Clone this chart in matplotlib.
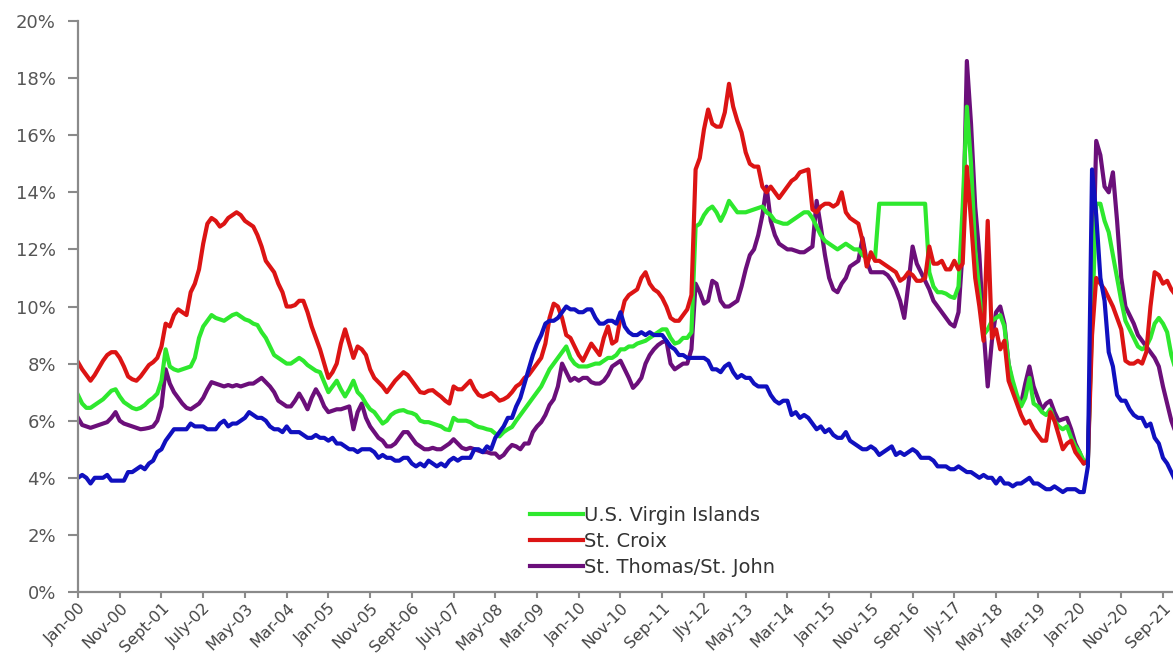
import matplotlib
matplotlib.use('Agg')
import matplotlib.pyplot as plt
import numpy as np

# etichette dell'asse x, una ogni 10 mesi a partire da gennaio 2000
etichette_mesi = ['Jan-00', 'Nov-00', 'Sept-01', 'July-02', 'May-03', 'Mar-04', 'Jan-05',
                  'Nov-05', 'Sept-06', 'July-07', 'May-08', 'Mar-09', 'Jan-10', 'Nov-10',
                  'Sep-11', 'Jly-12', 'May-13', 'Mar-14', 'Jan-15', 'Nov-15', 'Sep-16',
                  'Jly-17', 'May-18', 'Mar-19', 'Jan-20', 'Nov-20', 'Sep-21']

# tassi di disoccupazione mensili (%), gen 2000 - dic 2021, una riga per anno
usvi = [
    6.9, 6.6, 6.45, 6.45, 6.55, 6.65, 6.75, 6.9, 7.05, 7.1, 6.85, 6.65,
    6.55, 6.45, 6.4, 6.45, 6.55, 6.7, 6.8, 6.95, 7.4, 8.5, 7.9, 7.8,
    7.75, 7.8, 7.85, 7.9, 8.2, 8.9, 9.3, 9.5, 9.7, 9.6, 9.55, 9.5,
    9.6, 9.7, 9.75, 9.65, 9.55, 9.5, 9.4, 9.35, 9.1, 8.9, 8.6, 8.3,
    8.2, 8.1, 8.0, 8.0, 8.1, 8.2, 8.1, 7.95, 7.85, 7.75, 7.7, 7.35,
    7.0, 7.2, 7.4, 7.1, 6.85, 7.1, 7.4, 7.0, 6.85, 6.6, 6.4, 6.3,
    6.1, 5.9, 6.0, 6.2, 6.3, 6.35, 6.37, 6.3, 6.27, 6.2, 6.0, 5.95,
    5.95, 5.9, 5.85, 5.8, 5.7, 5.67, 6.1, 6.0, 6.0, 6.0, 5.95, 5.85,
    5.78, 5.75, 5.7, 5.67, 5.55, 5.45, 5.6, 5.7, 5.78, 6.0, 6.2, 6.4,
    6.6, 6.8, 7.0, 7.2, 7.5, 7.8, 8.0, 8.2, 8.4, 8.6, 8.2, 8.0,
    7.9, 7.9, 7.9, 7.95, 8.0, 8.0, 8.1, 8.2, 8.2, 8.3, 8.5, 8.5,
    8.6, 8.6, 8.7, 8.75, 8.8, 8.9, 9.0, 9.1, 9.2, 9.2, 8.9, 8.7,
    8.75, 8.9, 8.9, 9.1, 12.8, 12.9, 13.2, 13.4, 13.5, 13.3, 13.0, 13.3,
    13.7, 13.5, 13.3, 13.3, 13.3, 13.35, 13.4, 13.45, 13.5, 13.3, 13.2, 13.0,
    12.95, 12.9, 12.9, 13.0, 13.1, 13.2, 13.3, 13.3, 13.1, 12.8, 12.5, 12.3,
    12.2, 12.1, 12.0, 12.1, 12.2, 12.1, 12.0, 12.0, 11.8, 11.7, 11.75, 11.7,
    13.6, 13.6, 13.6, 13.6, 13.6, 13.6, 13.6, 13.6, 13.6, 13.6, 13.6, 13.6,
    11.2, 10.7, 10.5, 10.5, 10.45, 10.35, 10.3, 10.7, 13.5, 17.0, 15.0, 12.0,
    10.5, 9.0, 9.2, 9.5, 9.6, 9.7, 9.3, 8.0, 7.4, 6.9, 6.5, 6.8,
    7.5, 6.6, 6.5, 6.3, 6.2, 6.4, 6.0, 5.8, 5.7, 5.8, 5.4, 5.1,
    4.9, 4.6, 4.6, 9.5, 13.6, 13.6, 13.0, 12.6, 11.8, 11.0, 10.2, 9.5,
    9.2, 8.9, 8.6, 8.5, 8.6, 8.9, 9.4, 9.6, 9.4, 9.1, 8.3, 7.8,
]

st_croix = [
    8.05, 7.8, 7.6, 7.4, 7.6, 7.85, 8.1, 8.3, 8.4, 8.4, 8.2, 7.9,
    7.55, 7.45, 7.4, 7.55, 7.75, 7.95, 8.05, 8.2, 8.6, 9.4, 9.3, 9.7,
    9.9, 9.8, 9.7, 10.5, 10.8, 11.3, 12.2, 12.9, 13.1, 13.0, 12.8, 12.9,
    13.1, 13.2, 13.3, 13.2, 13.0, 12.9, 12.8, 12.5, 12.1, 11.6, 11.4, 11.2,
    10.8, 10.5, 10.0, 10.0, 10.05, 10.2, 10.2, 9.8, 9.3, 8.9, 8.5, 8.0,
    7.5, 7.7, 8.0, 8.7, 9.2, 8.7, 8.2, 8.6, 8.5, 8.3, 7.8, 7.5,
    7.35, 7.2, 7.0, 7.2, 7.4, 7.55, 7.7, 7.6, 7.4, 7.2, 7.0, 6.97,
    7.05, 7.07, 6.95, 6.84, 6.7, 6.6, 7.2, 7.1, 7.1, 7.25, 7.4, 7.1,
    6.9, 6.84, 6.9, 6.97, 6.85, 6.7, 6.75, 6.84, 7.0, 7.2, 7.3, 7.5,
    7.6, 7.8, 8.0, 8.2, 8.7, 9.6, 10.1, 10.0, 9.6, 9.0, 8.9, 8.6,
    8.3, 8.1, 8.4, 8.7, 8.5, 8.3, 8.9, 9.3, 8.7, 8.8, 9.6, 10.2,
    10.4, 10.5, 10.6, 11.0, 11.2, 10.8, 10.6, 10.5, 10.3, 10.0, 9.6, 9.5,
    9.5, 9.7, 9.9, 10.4, 14.8, 15.2, 16.2, 16.9, 16.4, 16.3, 16.3, 16.8,
    17.8, 17.0, 16.5, 16.1, 15.4, 15.0, 14.9, 14.9, 14.2, 14.0, 14.2, 14.0,
    13.8, 14.0, 14.2, 14.4, 14.5, 14.7, 14.75, 14.8, 13.4, 13.3, 13.5, 13.6,
    13.6, 13.5, 13.6, 14.0, 13.3, 13.1, 13.0, 12.9, 12.3, 11.4, 11.9, 11.6,
    11.6, 11.5, 11.4, 11.3, 11.2, 10.9, 11.0, 11.2, 11.1, 10.9, 10.9, 11.0,
    12.1, 11.5, 11.5, 11.6, 11.3, 11.3, 11.6, 11.3, 11.5, 14.9, 13.0, 11.0,
    10.0, 8.8, 13.0, 8.9, 9.2, 8.5, 8.8, 7.4, 7.0, 6.6, 6.2, 5.9,
    6.0, 5.7, 5.5, 5.3, 5.3, 6.3, 6.0, 5.5, 5.0, 5.2, 5.3, 4.9,
    4.7, 4.5, 4.6, 9.0, 11.0, 10.8, 10.6, 10.3, 10.0, 9.6, 9.2, 8.1,
    8.0, 8.0, 8.1, 8.0, 8.4, 10.0, 11.2, 11.1, 10.8, 10.9, 10.6, 10.4,
]

st_thomas = [
    6.1, 5.85, 5.8, 5.75, 5.8, 5.85, 5.9, 5.95, 6.1, 6.3, 6.0, 5.9,
    5.85, 5.8, 5.75, 5.7, 5.72, 5.75, 5.8, 6.0, 6.5, 7.8, 7.3, 7.0,
    6.8, 6.6, 6.45, 6.4, 6.5, 6.6, 6.8, 7.1, 7.35, 7.3, 7.25, 7.2,
    7.25, 7.2, 7.25, 7.2, 7.25, 7.3, 7.3, 7.4, 7.5, 7.35, 7.2, 7.0,
    6.7, 6.6, 6.5, 6.5, 6.7, 6.95, 6.7, 6.4, 6.8, 7.1, 6.85, 6.5,
    6.3, 6.35, 6.4, 6.4, 6.45, 6.5, 5.7, 6.3, 6.6, 6.1, 5.8, 5.6,
    5.4, 5.3, 5.1, 5.1, 5.2, 5.4, 5.6, 5.6, 5.4, 5.2, 5.1, 5.0,
    5.0, 5.05, 5.0, 5.0, 5.1, 5.2, 5.35, 5.2, 5.05, 5.0, 5.05, 5.0,
    4.95, 4.9, 4.9, 4.85, 4.85, 4.7, 4.8, 5.0, 5.15, 5.1, 5.0, 5.2,
    5.2, 5.6, 5.8, 5.95, 6.2, 6.55, 6.75, 7.2, 8.0, 7.7, 7.4, 7.5,
    7.4, 7.5, 7.5, 7.35, 7.3, 7.3, 7.4, 7.6, 7.9, 8.0, 8.1, 7.8,
    7.5, 7.15, 7.3, 7.5, 8.0, 8.3, 8.5, 8.65, 8.75, 8.8, 8.0, 7.8,
    7.9, 8.0, 8.0, 8.5, 10.8, 10.5, 10.1, 10.2, 10.9, 10.8, 10.2, 10.0,
    10.0, 10.1, 10.2, 10.7, 11.3, 11.8, 12.0, 12.5, 13.2, 14.2, 13.0, 12.5,
    12.2, 12.1, 12.0, 12.0, 11.95, 11.9, 11.9, 12.0, 12.1, 13.7, 12.8, 11.8,
    11.0, 10.6, 10.5, 10.8, 11.0, 11.4, 11.5, 11.6, 12.4, 11.6, 11.2, 11.2,
    11.2, 11.2, 11.1, 10.9, 10.6, 10.2, 9.6, 10.8, 12.1, 11.5, 11.2, 10.9,
    10.6, 10.2, 10.0, 9.8, 9.6, 9.4, 9.3, 9.8, 12.0, 18.6, 16.4, 13.5,
    11.8, 9.2, 7.2, 8.8, 9.8, 10.0, 9.4, 8.0, 7.2, 6.8, 6.6, 7.3,
    7.9, 7.2, 6.8, 6.4, 6.6, 6.7, 6.3, 6.0, 6.05, 6.1, 5.7, 5.2,
    4.9, 4.5, 4.6, 10.0, 15.8, 15.3, 14.2, 14.0, 14.7, 13.0, 11.0, 10.0,
    9.7, 9.4, 9.0, 8.8, 8.6, 8.4, 8.2, 7.9, 7.2, 6.6, 6.0, 5.6,
]

# Stati Uniti, per confronto (linea blu, senza voce in legenda)
stati_uniti = [
    4.0, 4.1, 4.0, 3.8, 4.0, 4.0, 4.0, 4.1, 3.9, 3.9, 3.9, 3.9,
    4.2, 4.2, 4.3, 4.4, 4.3, 4.5, 4.6, 4.9, 5.0, 5.3, 5.5, 5.7,
    5.7, 5.7, 5.7, 5.9, 5.8, 5.8, 5.8, 5.7, 5.7, 5.7, 5.9, 6.0,
    5.8, 5.9, 5.9, 6.0, 6.1, 6.3, 6.2, 6.1, 6.1, 6.0, 5.8, 5.7,
    5.7, 5.6, 5.8, 5.6, 5.6, 5.6, 5.5, 5.4, 5.4, 5.5, 5.4, 5.4,
    5.3, 5.4, 5.2, 5.2, 5.1, 5.0, 5.0, 4.9, 5.0, 5.0, 5.0, 4.9,
    4.7, 4.8, 4.7, 4.7, 4.6, 4.6, 4.7, 4.7, 4.5, 4.4, 4.5, 4.4,
    4.6, 4.5, 4.4, 4.5, 4.4, 4.6, 4.7, 4.6, 4.7, 4.7, 4.7, 5.0,
    5.0, 4.9, 5.1, 5.0, 5.4, 5.6, 5.8, 6.1, 6.1, 6.5, 6.8, 7.3,
    7.8, 8.3, 8.7, 9.0, 9.4, 9.5, 9.5, 9.6, 9.8, 10.0, 9.9, 9.9,
    9.8, 9.8, 9.9, 9.9, 9.6, 9.4, 9.4, 9.5, 9.5, 9.4, 9.8, 9.3,
    9.1, 9.0, 9.0, 9.1, 9.0, 9.1, 9.0, 9.0, 9.0, 8.8, 8.6, 8.5,
    8.3, 8.3, 8.2, 8.2, 8.2, 8.2, 8.2, 8.1, 7.8, 7.8, 7.7, 7.9,
    8.0, 7.7, 7.5, 7.6, 7.5, 7.5, 7.3, 7.2, 7.2, 7.2, 6.9, 6.7,
    6.6, 6.7, 6.7, 6.2, 6.3, 6.1, 6.2, 6.1, 5.9, 5.7, 5.8, 5.6,
    5.7, 5.5, 5.4, 5.4, 5.6, 5.3, 5.2, 5.1, 5.0, 5.0, 5.1, 5.0,
    4.8, 4.9, 5.0, 5.1, 4.8, 4.9, 4.8, 4.9, 5.0, 4.9, 4.7, 4.7,
    4.7, 4.6, 4.4, 4.4, 4.4, 4.3, 4.3, 4.4, 4.3, 4.2, 4.2, 4.1,
    4.0, 4.1, 4.0, 4.0, 3.8, 4.0, 3.8, 3.8, 3.7, 3.8, 3.8, 3.9,
    4.0, 3.8, 3.8, 3.7, 3.6, 3.6, 3.7, 3.6, 3.5, 3.6, 3.6, 3.6,
    3.5, 3.5, 4.4, 14.8, 13.2, 11.0, 10.2, 8.4, 7.9, 6.9, 6.7, 6.7,
    6.4, 6.2, 6.1, 6.1, 5.8, 5.9, 5.4, 5.2, 4.7, 4.5, 4.2, 3.9,
]

mesi = np.arange(len(usvi))

fig = plt.figure(figsize=(11.73, 6.61), dpi=100)
ax = fig.add_axes([0.0665, 0.1044, 0.9335, 0.8638])

# ordine di disegno: viola sotto, poi verde, rosso e infine il blu sopra a tutto
spessore = 3.0
linea_stt, = ax.plot(mesi, st_thomas, color='#6b0f7a', lw=spessore, solid_joinstyle='round')
linea_usvi, = ax.plot(mesi, usvi, color='#2ee82e', lw=spessore, solid_joinstyle='round')
linea_stx, = ax.plot(mesi, st_croix, color='#dc1414', lw=spessore, solid_joinstyle='round')
ax.plot(mesi, stati_uniti, color='#1010bf', lw=spessore, solid_joinstyle='round')

ax.set_xlim(0, 262.4)
ax.set_ylim(0, 20)

ax.set_yticks(range(0, 21, 2))
ax.set_yticklabels([f'{v}%' for v in range(0, 21, 2)])
ax.set_xticks(range(0, 10 * len(etichette_mesi), 10))
ax.set_xticklabels(etichette_mesi, rotation=45, ha='right', va='top', rotation_mode='anchor')

for lato in ['top', 'right']:
    ax.spines[lato].set_visible(False)
for lato in ['left', 'bottom']:
    ax.spines[lato].set_color('#8a8a8a')
    ax.spines[lato].set_linewidth(1.6)

ax.tick_params(axis='y', length=7, width=1.5, color='#8a8a8a', labelsize=13,
               labelcolor='#555555', pad=9)
ax.tick_params(axis='x', length=4, width=1.5, color='#8a8a8a', labelsize=11.5,
               labelcolor='#444444', pad=2)

leg = ax.legend(handles=[linea_usvi, linea_stx, linea_stt],
                labels=['U.S. Virgin Islands', 'St. Croix', 'St. Thomas/St. John'],
                loc='upper left', bbox_to_anchor=(530 / 1173, 1 - 506 / 661),
                bbox_transform=fig.transFigure, frameon=False, fontsize=14,
                handlelength=2.7, handletextpad=0.1, labelspacing=0.35,
                borderpad=0, borderaxespad=0)
for testo in leg.get_texts():
    testo.set_color('#333333')

fig.savefig('out.png', dpi=100)
